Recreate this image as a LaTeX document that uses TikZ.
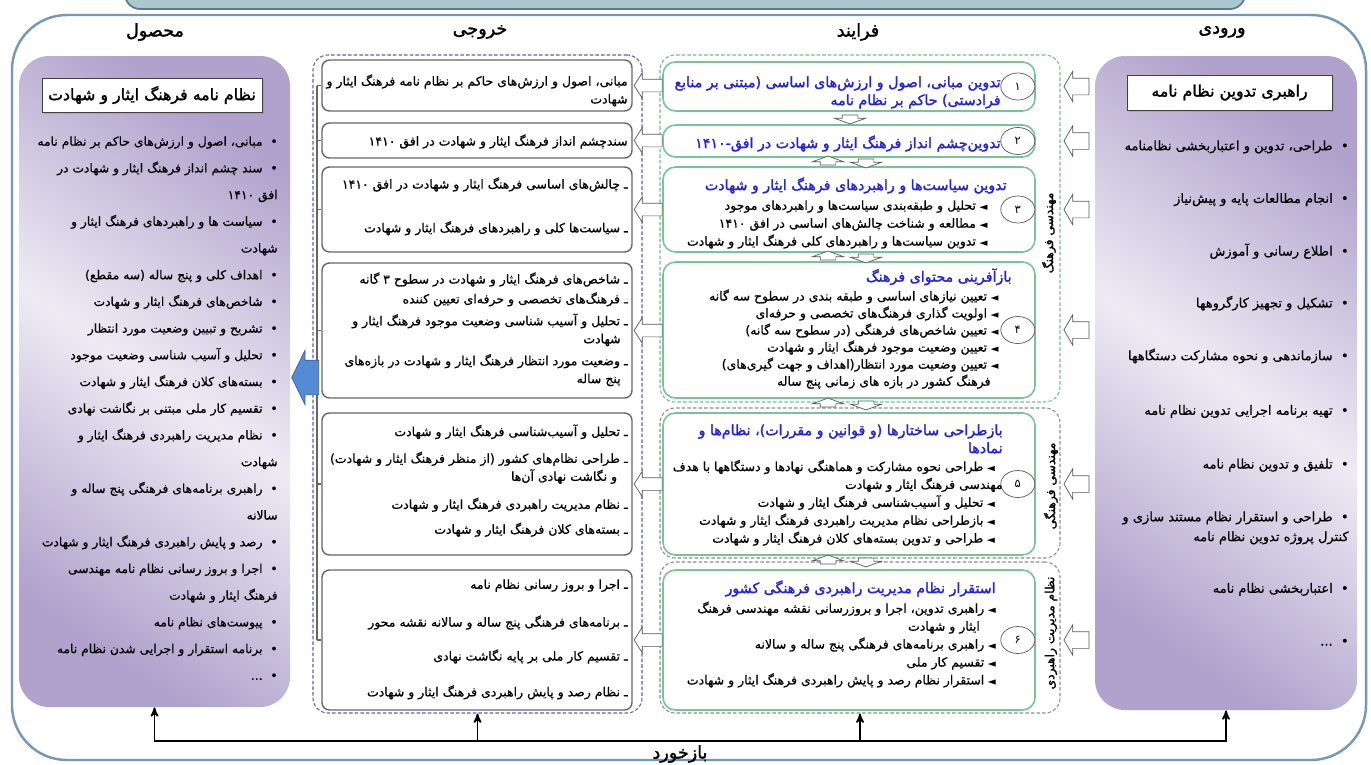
\documentclass[tikz,border=0pt]{standalone}
\usepackage{fontspec}
\newfontfamily\fa[Script=Arabic,BoldFont={DejaVu Sans},BoldFeatures={FakeBold=1.6}]{DejaVu Sans}
\newfontfamily\fab[Script=Arabic,FakeBold=0.6]{DejaVu Sans}
\TeXXeTstate=1
\usetikzlibrary{calc,positioning,arrows,fit,shapes.geometric,shapes.arrows,shadows}

\definecolor{frameblue}{RGB}{118,152,182}
\definecolor{bannerfill}{RGB}{172,199,208}
\definecolor{plight}{RGB}{238,235,244}
\definecolor{pdark}{RGB}{176,162,204}
\definecolor{outdash}{RGB}{92,92,205}
\definecolor{gframe}{RGB}{110,190,140}
\definecolor{pgreen}{RGB}{118,196,152}
\definecolor{ptitle}{RGB}{35,35,215}
\definecolor{bluearr}{RGB}{84,140,212}

% one right-to-left line
\newcommand{\rl}[1]{\beginR #1\endR}
\newcommand{\tl}[1]{\textcolor{ptitle}{\fa\bfseries\fontsize{8.1}{10.2}\selectfont\rl{#1}}}
\newcommand{\bl}[2][0pt]{\rl{\kern#1{\fontsize{5.5}{6}\selectfont ◄}\ #2}}
\newcommand{\dt}[1]{\rl{•\ \ #1}}

\tikzset{
>=stealth',
bigframe/.style={draw=frameblue, line width=1.4pt, rounded corners=1.1cm, inner sep=0pt},
banner/.style={draw=frameblue!80!black, fill=bannerfill, line width=1pt, rounded corners=0.3cm, inner sep=0pt},
panel/.style={rounded corners=0.6cm, inner sep=0pt, top color=pdark, bottom color=pdark, middle color=plight, shading angle=-35},
ttlbox/.style={draw=black!75, fill=white, inner sep=0pt, drop shadow={shadow xshift=1pt, shadow yshift=-1pt, opacity=.3}},
ttltxt/.style={font=\fa\bfseries\fontsize{9}{11}\selectfont, inner sep=0pt},
colhead/.style={font=\fa\bfseries\fontsize{10}{12}\selectfont, inner sep=0pt},
grp/.style={rounded corners=0.3cm, inner sep=0pt, dash pattern=on 2pt off 1.2pt, line width=0.6pt},
obox/.style={draw=black!60, line width=0.8pt, fill=white, rounded corners=0.15cm, inner sep=0pt},
pbox/.style={draw=pgreen, line width=0.9pt, fill=white, rounded corners=0.25cm, inner sep=0pt},
numcirc/.style={ellipse, draw=black!65, fill=white, minimum width=0.68cm, minimum height=0.54cm, inner sep=0pt, font=\fa\fontsize{6.5}{7}\selectfont},
inarrow/.style={single arrow, draw=black!65, fill=white, inner xsep=0pt, inner ysep=0.16cm, shape border rotate=180, minimum height=0.5cm, single arrow head extend=0.14cm, single arrow tip angle=120},
outarrow/.style={single arrow, draw=black!65, fill=white, inner xsep=0pt, inner ysep=0.12cm, shape border rotate=180, minimum height=0.56cm, single arrow head extend=0.13cm, single arrow tip angle=115},
vsmall/.style={single arrow, draw=black!65, fill=white, inner xsep=0.15cm, inner ysep=0pt, minimum height=0.18cm, single arrow head extend=0.16cm, single arrow tip angle=140},
bluearrow/.style={single arrow, draw=bluearr!70!black, fill=bluearr, inner xsep=0pt, inner ysep=0.34cm, shape border rotate=180, minimum height=0.54cm, single arrow head extend=0.2cm, single arrow tip angle=128},
busline/.style={draw=black!60, line width=0.9pt},
fbline/.style={draw=black, line width=0.9pt},
vlab/.style={font=\fa\bfseries\fontsize{7}{8}\selectfont, inner sep=0pt, rotate=90},
prodtxt/.style={font=\fab\fontsize{7}{15.2}\selectfont, align=right, inner sep=0pt, anchor=north east},
inptxt/.style={font=\fab\fontsize{7.4}{11.3}\selectfont, align=right, inner sep=0pt, anchor=north east},
outtxt/.style={font=\fab\fontsize{7.1}{10.2}\selectfont, align=right, inner sep=0pt, anchor=north east},
proctxt/.style={font=\fab\fontsize{7.1}{10.2}\selectfont, align=right, inner sep=0pt, anchor=north east},
}

\begin{document}
\begin{tikzpicture}[x=0.02cm,y=-0.02cm]
\useasboundingbox (0,0) rectangle (1371,764);

% frame and column heads
\node[banner, fit={(125,-40) (1245,9)}] (top_banner) {};
\node[bigframe, fit={(12,15) (1366,760)}] (big_frame) {};

\node[colhead] (head_prod) at (155,32) {\rl{محصول}};
\node[colhead] (head_out) at (480,32) {\rl{خروجی}};
\node[colhead] (head_proc) at (858,32) {\rl{فرایند}};
\node[colhead] (head_in) at (1222,32) {\rl{ورودی}};

% product
\node[panel, fit={(19,56) (290,707)}] (prod_panel) {};
\node[ttlbox, fit={(42,78) (262,112)}] (prod_title) {};
\node[ttltxt] (prod_title_txt) at (prod_title.center) {\rl{نظام نامه فرهنگ ایثار و شهادت}};
\node[prodtxt] (prod_list) at (278,136) {%
\dt{مبانی، اصول و ارزش‌های حاکم بر نظام نامه}\\
\dt{سند چشم انداز فرهنگ ایثار و شهادت در}\\
\rl{افق ۱۴۱۰}\\
\dt{سیاست ها و راهبردهای فرهنگ ایثار و}\\
\rl{شهادت}\\
\dt{اهداف کلی و پنج ساله (سه مقطع)}\\
\dt{شاخص‌های فرهنگ ایثار و شهادت}\\
\dt{تشریح و تبیین وضعیت مورد انتظار}\\
\dt{تحلیل و آسیب شناسی  وضعیت موجود}\\
\dt{بسته‌های کلان فرهنگ ایثار و شهادت}\\
\dt{تقسیم کار ملی مبتنی بر نگاشت نهادی}\\
\dt{نظام مدیریت راهبردی فرهنگ ایثار و}\\
\rl{شهادت}\\
\dt{راهبری برنامه‌های فرهنگی پنج ساله و}\\
\rl{سالانه}\\
\dt{رصد و پایش راهبردی فرهنگ ایثار و شهادت}\\
\dt{اجرا و بروز رسانی نظام نامه مهندسی}\\
\rl{فرهنگ ایثار و شهادت}\\
\dt{پیوست‌های نظام نامه}\\
\dt{برنامه استقرار و اجرایی شدن نظام نامه}\\
\dt{...}};

% input
\node[panel, fit={(1095,56) (1357,710)}] (in_panel) {};
\node[ttlbox, fit={(1127,75) (1332,110)}] (in_title) {};
\node[ttltxt] (in_title_txt) at (in_title.center) {\rl{راهبری تدوین  نظام نامه}};
\node[inptxt] (in_list) at (1349,140) {%
\dt{طراحی، تدوین و اعتباربخشی نظامنامه}\\[18.7pt]
\dt{انجام مطالعات پایه و  پیش‌نیاز}\\[18.7pt]
\dt{اطلاع رسانی و آموزش}\\[18.2pt]
\dt{تشکیل و تجهیز کارگروهها}\\[18.7pt]
\dt{سازماندهی و نحوه مشارکت دستگاهها}\\[19.8pt]
\dt{تهیه برنامه اجرایی تدوین نظام نامه}\\[19.3pt]
\dt{تلفیق و تدوین نظام نامه}\\[18.7pt]
\dt{طراحی  و  استقرار  نظام  مستند سازی و}\\
\rl{کنترل پروژه  تدوین نظام نامه}\\[18.1pt]
\dt{اعتباربخشی نظام نامه}\\[18.7pt]
\dt{...}};

% output
\node[grp, draw=outdash, fit={(313,55) (642,713)}] (out_frame) {};
\foreach \i/\ya/\yb in {1/60/111, 2/123/158, 3/167/252, 4/263/398, 5/413/555, 6/570/710}
  \node[obox, fit={(322,\ya) (632,\yb)}] (o\i) {};

\coordinate (bus) at (317,0);
\draw[busline] (o1.west -| bus) -- (o6.west -| bus);
\foreach \i in {1,...,6}
  \draw[busline] (o\i.west -| bus) -- (o\i.west);

\node[outtxt] (o1_txt) at (628,74) {%
\rl{مبانی، اصول و ارزش‌های حاکم بر نظام نامه  فرهنگ ایثار و}\\
\rl{شهادت}};
\node[outtxt] (o2_txt) at (628,134) {%
\rl{سندچشم انداز فرهنگ ایثار و شهادت در افق ۱۴۱۰}};
\node[outtxt] (o3_txt) at (628,177) {%
\rl{ـ چالش‌های اساسی فرهنگ ایثار و شهادت در افق ۱۴۱۰}\\[14.7pt]
\rl{ـ سیاست‌ها کلی و راهبردهای فرهنگ ایثار و شهادت}};
\node[outtxt] (o4_txt) at (628,272) {%
\rl{ـ شاخص‌های فرهنگ ایثار و شهادت در سطوح ۳ گانه}\\[1.1pt]
\rl{ـ فرهنگ‌های تخصصی و حرفه‌ای تعیین کننده}\\[2.3pt]
\rl{ـ تحلیل و آسیب شناسی وضعیت موجود فرهنگ ایثار و}\\
\rl{\kern4pt شهادت}\\[2.3pt]
\rl{ـ وضعیت مورد انتظار فرهنگ ایثار و شهادت در بازه‌های}\\
\rl{\kern4pt پنج ساله}};
\node[outtxt] (o5_txt) at (628,424) {%
\rl{ـ تحلیل و آسیب‌شناسی فرهنگ ایثار و شهادت}\\[5.1pt]
\rl{ـ طراحی نظام‌های کشور (از منظر فرهنگ ایثار و شهادت)}\\
\rl{\kern6pt و نگاشت نهادی آن‌ها}\\[5.7pt]
\rl{ـ نظام مدیریت راهبردی فرهنگ ایثار و شهادت}\\[4pt]
\rl{ـ بسته‌های کلان فرهنگ ایثار و شهادت}};
\node[outtxt] (o6_txt) at (628,579) {%
\rl{ـ اجرا و  بروز رسانی نظام نامه}\\[11.3pt]
\rl{ـ برنامه‌های فرهنگی پنج ساله و سالانه نقشه محور}\\[9.1pt]
\rl{ـ تقسیم کار ملی بر پایه نگاشت نهادی}\\[10.2pt]
\rl{ـ نظام رصد و پایش راهبردی فرهنگ ایثار و شهادت}};

% process
\node[grp, draw=gframe, fit={(660,55) (1060,402)}] (grp_culture) {};
\node[grp, draw=black!45, fit={(660,408) (1060,558)}] (grp_struct) {};
\node[grp, draw=black!45, fit={(660,562) (1060,713)}] (grp_manage) {};

\foreach \i/\ya/\yb/\n in {1/62/111/۱, 2/125/157/۲, 3/167/252/۳, 4/262/398/۴, 5/413/555/۵, 6/570/710/۶}{
  \node[pbox, fit={(663,\ya) (1035,\yb)}] (p\i) {};
  \node[numcirc] (n\i) at ($(p\i.east)+(-18,0)$) {\n};
}

\node[proctxt] (p1_txt) at (1001,76) {%
\tl{تدوین مبانی، اصول و ارزش‌های اساسی (مبتنی بر منابع}\\
\tl{فرادستی) حاکم بر نظام نامه}};
\node[proctxt] (p2_txt) at (1001,135) {%
\tl{تدوین‌چشم انداز فرهنگ ایثار و شهادت در افق-۱۴۱۰}};
\node[proctxt] (p3_txt) at (1007,177) {%
\tl{تدوین سیاست‌ها و راهبردهای فرهنگ ایثار و شهادت}\\[1pt]
\bl[11pt]{تحلیل و طبقه‌بندی سیاست‌ها و راهبردهای موجود}\\
\bl[11pt]{مطالعه و شناخت چالش‌های اساسی  در افق ۱۴۱۰}\\
\bl[11pt]{تدوین سیاست‌ها و راهبردهای کلی فرهنگ ایثار و شهادت}};
\node[proctxt, font=\fab\fontsize{7.1}{9.7}\selectfont] (p4_txt) at (1012,268) {%
\tl{بازآفرینی محتوای فرهنگ}\\[1pt]
\bl[7.5pt]{تعیین نیازهای اساسی و  طبقه بندی در سطوح سه گانه}\\
\bl[7.5pt]{اولویت گذاری فرهنگ‌های تخصصی و حرفه‌ای}\\
\bl[7.5pt]{تعیین شاخص‌های فرهنگی (در سطوح سه گانه)}\\
\bl[7.5pt]{تعیین وضعیت موجود فرهنگ ایثار و شهادت}\\
\bl[7.5pt]{تعیین وضعیت مورد انتظار(اهداف و جهت گیری‌های)}\\
\rl{\kern12pt فرهنگ کشور در بازه های زمانی پنج ساله}};
\node[proctxt] (p5_txt) at (1003,424) {%
\tl{بازطراحی ساختارها (و قوانین و مقررات)، نظام‌ها و}\\
\tl{نمادها}\\
\bl[4.5pt]{طراحی نحوه مشارکت و هماهنگی نهادها و دستگاهها با هدف}\\
\rl{مهندسی فرهنگ ایثار و شهادت}\\
\bl[4.5pt]{تحلیل و آسیب‌شناسی فرهنگ ایثار و شهادت}\\
\bl[4.5pt]{بازطراحی نظام مدیریت راهبردی فرهنگ ایثار و شهادت}\\
\bl[4.5pt]{طراحی و تدوین بسته‌های کلان فرهنگ ایثار و شهادت}};
\node[proctxt] (p6_txt) at (996,580) {%
\tl{استقرار نظام مدیریت راهبردی فرهنگی کشور}\\[1pt]
\bl{راهبری تدوین، اجرا و بروزرسانی نقشه مهندسی فرهنگ}\\
\rl{\kern9pt ایثار و شهادت}\\
\bl{راهبری برنامه‌های فرهنگی پنج ساله و سالانه}\\
\bl{تقسیم کار ملی}\\
\bl{استقرار نظام رصد و پایش راهبردی فرهنگ ایثار و شهادت}};

\node[vlab] (lab_culture) at (1049,233) {\rl{مهندسی فرهنگ}};
\node[vlab] (lab_struct) at (1051,486) {\rl{مهندسی فرهنگی}};
\node[vlab] (lab_manage) at (1051,633) {\rl{نظام مدیریت راهبردی}};

% small arrows between the steps
\node[vsmall, shape border rotate=270] (dn12) at (850,118) {};
\foreach \y/\k in {162/23, 257/34, 404/45, 561/56}{
  \node[vsmall, shape border rotate=90] (up\k) at (828,\y) {};
  \node[vsmall, shape border rotate=270] (dn\k) at (866,\y) {};
}

% input -> process, process -> output
\foreach \i in {1,...,6}{
  \node[inarrow, anchor=tip] (ia\i) at ($(grp_culture.east |- p\i.east)+(3,0)$) {};
  \node[outarrow, anchor=tip] (oa\i) at ($(o\i.east)+(1,0)$) {};
}

% output -> product
\node[bluearrow, anchor=tip] (to_prod) at ($(prod_panel.east)+(1,-4)$) {};

% feedback
\coordinate (fb) at (0,741);
\draw[fbline, <->] (prod_panel.south) -- (prod_panel.south |- fb) -- (in_panel.south |- fb) -- (in_panel.south);
\draw[fbline, ->] (out_frame.south |- fb) -- (out_frame.south);
\draw[fbline, ->] (grp_manage.south |- fb) -- (grp_manage.south);
\node[colhead] (fb_label) at (680,754) {\rl{بازخورد}};

\end{tikzpicture}
\end{document}
